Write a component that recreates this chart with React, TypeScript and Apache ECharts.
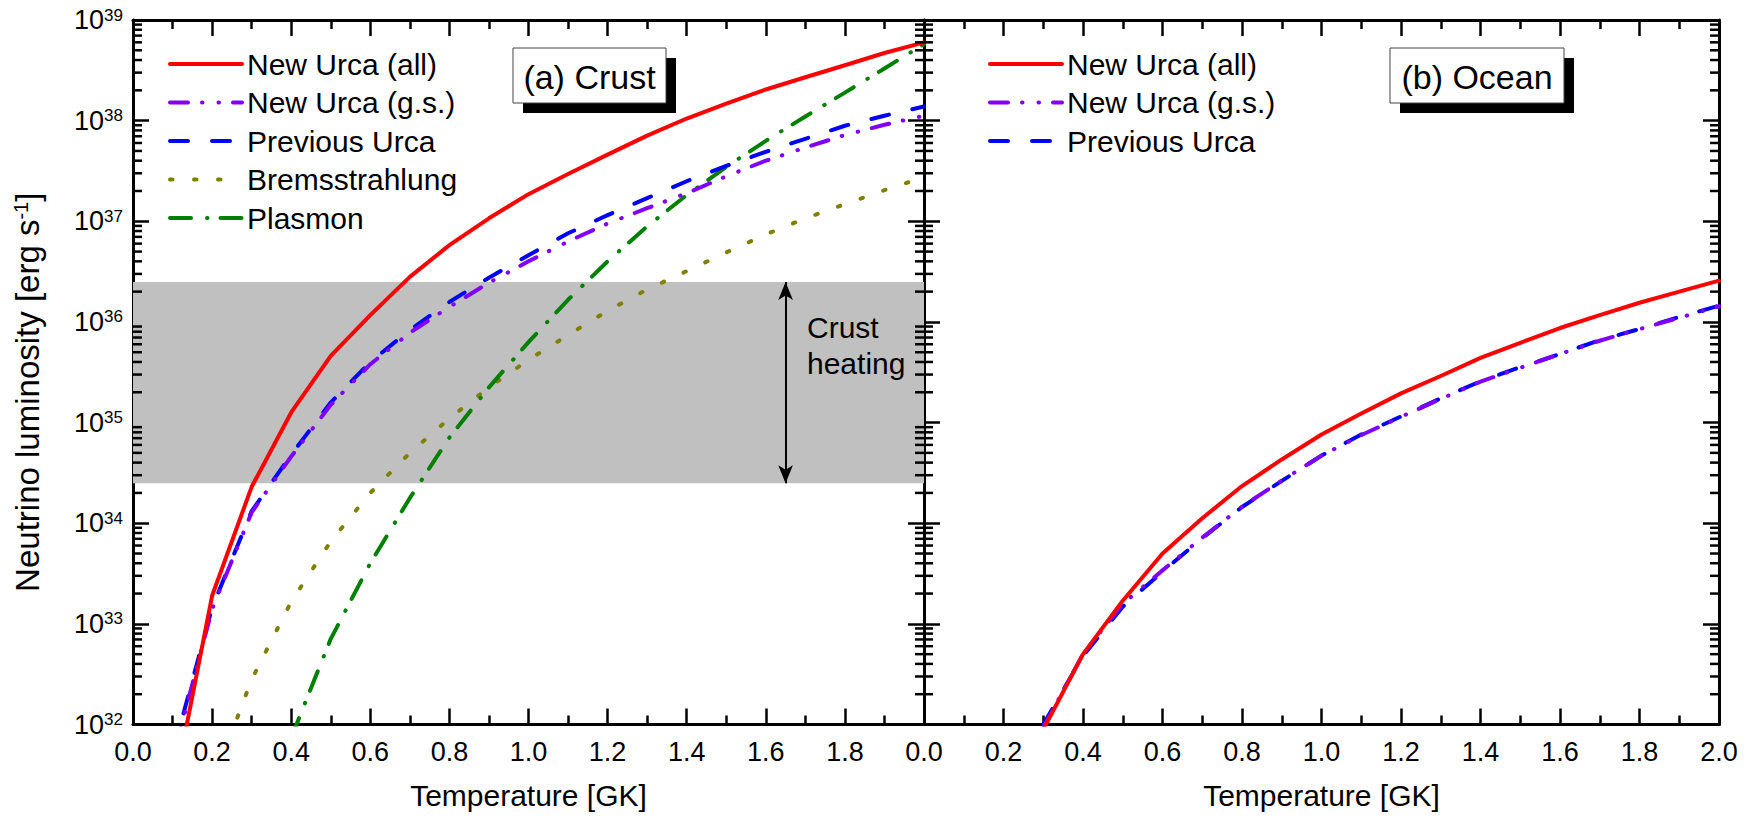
import { useEffect, useRef } from 'react';
import * as echarts from 'echarts';

const FONT = 'Liberation Sans, Arial, Helvetica, sans-serif';

// ---------- data (luminosity in erg/s vs temperature in GK) ----------
const T_CRUST = [0.1, 0.2, 0.3, 0.4, 0.5, 0.6, 0.7, 0.8, 0.9, 1.0, 1.1, 1.2, 1.3, 1.4, 1.5, 1.6, 1.7, 1.8, 1.9, 2.0];
const crustNewAll = [1.9e31, 1.9e33, 2.3e34, 1.26e35, 4.6e35, 1.17e36, 2.8e36, 5.8e36, 1.07e37, 1.86e37, 2.95e37, 4.6e37, 7.1e37, 1.05e38, 1.48e38, 2.04e38, 2.7e38, 3.55e38, 4.7e38, 6.0e38];
const crustNewGs = [4.5e31, 1.4e33, 1.28e34, 4.6e34, 1.5e35, 3.8e35, 7.8e35, 1.41e36, 2.45e36, 4.0e36, 6.3e36, 9.5e36, 1.35e37, 1.9e37, 2.8e37, 4.0e37, 5.4e37, 7.2e37, 9.1e37, 1.12e38];
const crustPrev = [5.1e31, 1.45e33, 1.32e34, 4.8e34, 1.58e35, 4.0e35, 8.3e35, 1.58e36, 2.75e36, 4.6e36, 7.6e36, 1.15e37, 1.7e37, 2.5e37, 3.55e37, 4.9e37, 6.6e37, 8.9e37, 1.12e38, 1.38e38];
const T_BREMS = [0.2, 0.3, 0.4, 0.5, 0.6, 0.7, 0.8, 0.9, 1.0, 1.1, 1.2, 1.3, 1.4, 1.5, 1.6, 1.7, 1.8, 1.9, 2.0];
const crustBrems = [2.5e31, 2.8e32, 1.66e33, 6.6e33, 2.0e34, 5.0e34, 1.1e35, 2.24e35, 4.2e35, 7.4e35, 1.29e36, 2.1e36, 3.2e36, 4.9e36, 7.4e36, 1.07e37, 1.48e37, 2.04e37, 2.75e37];
const T_PLASMON = [0.4, 0.5, 0.6, 0.7, 0.8, 0.9, 1.0, 1.1, 1.2, 1.3, 1.4, 1.5, 1.6, 1.7, 1.8, 1.9, 2.0];
const crustPlasmon = [7.4e31, 7.1e32, 4.0e33, 1.78e34, 7.1e34, 2.24e35, 6.3e35, 1.66e36, 4.0e36, 8.9e36, 1.82e37, 3.47e37, 6.3e37, 1.1e38, 1.9e38, 3.3e38, 5.75e38];

const T_OCEAN = [0.3, 0.4, 0.5, 0.6, 0.7, 0.8, 0.9, 1.0, 1.1, 1.2, 1.3, 1.4, 1.5, 1.6, 1.7, 1.8, 1.9, 2.0];
const oceanNewAll = [8.9e31, 5.0e32, 1.7e33, 5.0e33, 1.12e34, 2.34e34, 4.3e34, 7.6e34, 1.23e35, 1.95e35, 2.9e35, 4.4e35, 6.2e35, 8.7e35, 1.17e36, 1.55e36, 2.0e36, 2.57e36];
const oceanNewGs = [9.3e31, 5.0e32, 1.58e33, 3.4e33, 7.2e33, 1.46e34, 2.65e34, 4.7e34, 7.5e34, 1.14e35, 1.72e35, 2.55e35, 3.5e35, 4.8e35, 6.5e35, 8.5e35, 1.1e36, 1.43e36];
const oceanPrev = [1.0e32, 4.8e32, 1.48e33, 3.3e33, 7.1e33, 1.45e34, 2.63e34, 4.7e34, 7.6e34, 1.15e35, 1.74e35, 2.57e35, 3.55e35, 4.8e35, 6.6e35, 8.5e35, 1.12e36, 1.45e36];

const heatingRange = [2.5e34, 2.5e36];
const arrowT = 1.65;

const X_MIN = 0;
const X_MAX = 2.0;
const X_STEP = 0.2;
const Y_MIN = 1e32;
const Y_MAX = 1e39;
// minor log ticks (2..9 x 10^n)
const minorYTicks = [
  2e32, 3e32, 4e32, 5e32, 6e32, 7e32, 8e32, 9e32,
  2e33, 3e33, 4e33, 5e33, 6e33, 7e33, 8e33, 9e33,
  2e34, 3e34, 4e34, 5e34, 6e34, 7e34, 8e34, 9e34,
  2e35, 3e35, 4e35, 5e35, 6e35, 7e35, 8e35, 9e35,
  2e36, 3e36, 4e36, 5e36, 6e36, 7e36, 8e36, 9e36,
  2e37, 3e37, 4e37, 5e37, 6e37, 7e37, 8e37, 9e37,
  2e38, 3e38, 4e38, 5e38, 6e38, 7e38, 8e38, 9e38,
];

const NAMES = ['New Urca (all)', 'New Urca (g.s.)', 'Previous Urca', 'Bremsstrahlung', 'Plasmon'];
const COLORS = ['#ff0000', '#8000ff', '#0000ff', '#808000', '#008000'];
const DASHES: any[] = ['solid', [18, 14, 0.5, 16, 0.5, 14], [18, 24], [2.5, 21.5], [21, 16, 0.5, 13]];

const pair = (xs: number[], ys: number[]) => xs.map((x, i) => [x, ys[i]]);

const axisLine = { show: true, onZero: false, lineStyle: { color: '#000', width: 3 } };
const majorTick = { show: true, inside: true, length: 16, lineStyle: { color: '#000', width: 2.5 } };
const minorTick = { show: true, splitNumber: 2, length: 9, lineStyle: { color: '#000', width: 2.5 } };

function makeX(gridIndex: number, position: 'top' | 'bottom', labels: boolean, hideMax: boolean) {
  return {
    type: 'value', gridIndex, position, min: X_MIN, max: X_MAX, interval: X_STEP,
    axisLine, axisTick: majorTick, minorTick,
    splitLine: { show: false }, minorSplitLine: { show: false },
    axisLabel: {
      show: labels, margin: 14, color: '#000', fontSize: 27, fontFamily: FONT,
      showMaxLabel: !hideMax, showMinLabel: true,
      formatter: (v: number) => v.toFixed(1),
    },
    name: labels ? 'Temperature [GK]' : '', nameLocation: 'middle', nameGap: 56,
    nameTextStyle: { color: '#000', fontSize: 30, fontFamily: FONT },
  };
}

function makeY(gridIndex: number, position: 'left' | 'right', labels: boolean) {
  return {
    type: 'log', logBase: 10, gridIndex, position, min: Y_MIN, max: Y_MAX, splitNumber: 7,
    axisLine, axisTick: majorTick,
    splitLine: { show: false },
    axisLabel: {
      show: labels, margin: 10, color: '#000',
      formatter: (v: number) => '{b|10}{s|' + Math.round(Math.log10(v)) + '}',
      rich: {
        b: { fontSize: 27, fontFamily: FONT, color: '#000' },
        s: { fontSize: 17, fontFamily: FONT, color: '#000', verticalAlign: 'top' },
      },
    },
    name: labels ? 'Neutrino luminosity [erg s{sup|-1}]' : '',
    nameLocation: 'middle', nameRotate: 90, nameGap: 89,
    nameTextStyle: {
      color: '#000', fontSize: 33, fontFamily: FONT, padding: [0, 40, 0, 0],
      rich: { sup: { fontSize: 20, fontFamily: FONT, color: '#000', verticalAlign: 'top' } },
    },
  };
}

function lineSeries(idx: number, xs: number[], ys: number[], xAxisIndex: number, yAxisIndex: number) {
  return {
    type: 'line', name: NAMES[idx], xAxisIndex, yAxisIndex,
    data: pair(xs, ys), symbol: 'none', showSymbol: false, smooth: false, z: 3,
    color: COLORS[idx],
    lineStyle: { color: COLORS[idx], width: 4, type: DASHES[idx], cap: 'round', join: 'round' },
    clip: true,
  };
}

function minorTickSeries(xAxisIndex: number, yAxisIndex: number) {
  return {
    type: 'custom', xAxisIndex, yAxisIndex, silent: true, z: 6, clip: false,
    data: minorYTicks.map((v) => [X_MIN, v]),
    renderItem: (params: any, api: any) => {
      const cs = params.coordSys;
      const y = api.coord([X_MIN, api.value(1)])[1];
      const st = { stroke: '#000', lineWidth: 2.5 };
      return {
        type: 'group',
        children: [
          { type: 'line', shape: { x1: cs.x, y1: y, x2: cs.x + 9, y2: y }, style: st },
          { type: 'line', shape: { x1: cs.x + cs.width - 9, y1: y, x2: cs.x + cs.width, y2: y }, style: st },
        ],
      };
    },
  };
}

function labelBox(x: number, y: number, w: number, h: number, text: string) {
  return {
    type: 'group',
    children: [
      { type: 'rect', shape: { x: x + 10, y: y + 10, width: w, height: h }, style: { fill: '#000' }, z: 10 },
      { type: 'rect', shape: { x, y, width: w, height: h }, style: { fill: '#fff', stroke: '#444', lineWidth: 1 }, z: 11 },
      {
        type: 'text', x: x + w / 2, y: y + h / 2 + 1, z: 12,
        style: { text, fill: '#000', font: `34px ${FONT}`, textAlign: 'center', textVerticalAlign: 'middle' },
      },
    ],
  };
}

const legendBase = {
  orient: 'vertical', itemWidth: 72, itemHeight: 14, itemGap: 8.5,
  textStyle: { color: '#000', fontSize: 30, fontFamily: FONT, lineHeight: 30, padding: [0, 0, 0, 0] },
  lineStyle: { width: 4 },
  itemStyle: { opacity: 0 },
  selectedMode: false, padding: 0,
};

const option: any = {
  animation: false,
  backgroundColor: '#fff',
  textStyle: { fontFamily: FONT },
  grid: [
    { left: 133, top: 20, width: 791, height: 704.5 },
    { left: 924, top: 20, width: 795, height: 704.5 },
  ],
  xAxis: [
    makeX(0, 'bottom', true, true),
    makeX(0, 'top', false, false),
    makeX(1, 'bottom', true, false),
    makeX(1, 'top', false, false),
  ],
  yAxis: [
    makeY(0, 'left', true),
    makeY(0, 'right', false),
    makeY(1, 'left', false),
    makeY(1, 'right', false),
  ],
  legend: [
    { ...legendBase, left: 168, top: 49, data: NAMES },
    { ...legendBase, left: 988, top: 49, data: NAMES.slice(0, 3) },
  ],
  series: [
    {
      type: 'line', name: 'heating', xAxisIndex: 0, yAxisIndex: 0, data: [], z: 1, silent: true,
      markArea: {
        silent: true,
        itemStyle: { color: '#c0c0c0', opacity: 1 },
        data: [[{ yAxis: heatingRange[0] }, { yAxis: heatingRange[1] }]],
      },
      markLine: {
        silent: true,
        symbol: ['arrow', 'arrow'], symbolSize: [11, 18],
        label: { show: false },
        lineStyle: { color: '#000', width: 2, type: 'solid' },
        data: [[{ coord: [arrowT, heatingRange[0]] }, { coord: [arrowT, heatingRange[1]] }]],
      },
    },
    lineSeries(3, T_BREMS, crustBrems, 0, 0),
    lineSeries(4, T_PLASMON, crustPlasmon, 0, 0),
    lineSeries(2, T_CRUST, crustPrev, 0, 0),
    lineSeries(1, T_CRUST, crustNewGs, 0, 0),
    lineSeries(0, T_CRUST, crustNewAll, 0, 0),
    lineSeries(2, T_OCEAN, oceanPrev, 2, 2),
    lineSeries(1, T_OCEAN, oceanNewGs, 2, 2),
    lineSeries(0, T_OCEAN, oceanNewAll, 2, 2),
    minorTickSeries(0, 0),
    minorTickSeries(2, 2),
  ],
  graphic: [
    labelBox(513, 48, 153, 55, '(a) Crust'),
    labelBox(1390, 48, 174, 55, '(b) Ocean'),
    {
      type: 'text', x: 807, y: 309, z: 12,
      style: { text: 'Crust\nheating', fill: '#000', font: `30px ${FONT}`, lineHeight: 36, textVerticalAlign: 'top' },
    },
  ],
};

export default function App() {
  const ref = useRef<HTMLDivElement>(null);
  useEffect(() => {
    const chart = echarts.init(ref.current!, null, { renderer: 'svg' });
    chart.setOption(option);
    return () => chart.dispose();
  }, []);
  return (
    <div
      ref={ref}
      style={{ position: 'fixed', left: 0, top: 0, width: 1744, height: 824, background: '#fff' }}
    />
  );
}
